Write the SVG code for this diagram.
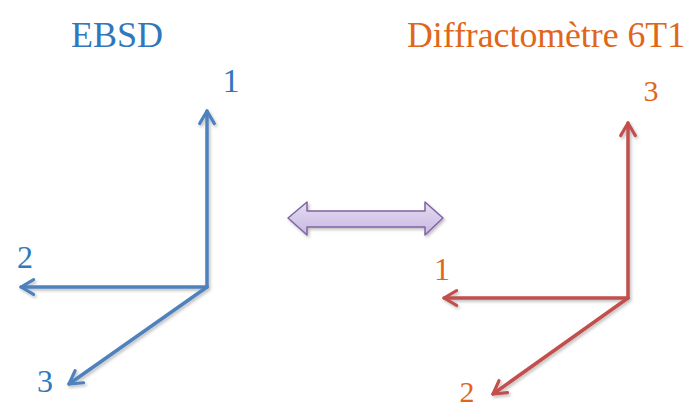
<svg xmlns="http://www.w3.org/2000/svg" width="686" height="407" viewBox="0 0 686 407">
<defs>
<marker id="mb" viewBox="0 0 20 20" refX="16" refY="10" markerWidth="6" markerHeight="6" orient="auto" markerUnits="strokeWidth">
<path d="M4,3 L16,10 L4,17" fill="none" stroke="#4f81bd" stroke-width="3" stroke-linecap="round" stroke-linejoin="round"/>
</marker>
<marker id="mr" viewBox="0 0 20 20" refX="16" refY="10" markerWidth="6" markerHeight="6" orient="auto" markerUnits="strokeWidth">
<path d="M4,3 L16,10 L4,17" fill="none" stroke="#c0504d" stroke-width="3" stroke-linecap="round" stroke-linejoin="round"/>
</marker>
<linearGradient id="pg" x1="0" y1="0" x2="0" y2="1">
<stop offset="0" stop-color="#e4dcf2"/>
<stop offset="1" stop-color="#c6b8e2"/>
</linearGradient>
<filter id="sh" x="-10%" y="-10%" width="130%" height="130%">
<feDropShadow dx="1.5" dy="2" stdDeviation="1.5" flood-color="#000" flood-opacity="0.25"/>
</filter>
</defs>
<rect width="686" height="407" fill="#ffffff"/>
<g id="title-ebsd"><text fill="#2f78bd" font-family="Times New Roman, Liberation Serif, serif" x="117" y="47" font-size="36" text-anchor="middle">EBSD</text></g>
<g id="title-diff"><text fill="#e0661a" font-family="Times New Roman, Liberation Serif, serif" x="407" y="47" font-size="36" textLength="278" lengthAdjust="spacingAndGlyphs">Diffractomètre 6T1</text></g>
<g id="labels-ebsd" fill="#2f78bd" font-family="Times New Roman, Liberation Serif, serif" text-anchor="middle">
<text x="231" y="92" font-size="34">1</text>
<text x="25" y="268" font-size="32">2</text>
<text x="45" y="392" font-size="32">3</text>
</g>
<g id="labels-diff" fill="#e0661a" font-family="Times New Roman, Liberation Serif, serif" text-anchor="middle">
<text x="651" y="101" font-size="30">3</text>
<text x="442" y="280" font-size="32">1</text>
<text x="467" y="402" font-size="30">2</text>
</g>
<g id="connectors" filter="url(#sh)" fill="none" stroke-width="3.5" stroke-linecap="round">
<g stroke="#4f81bd">
<line x1="207" y1="287" x2="207" y2="111" marker-end="url(#mb)"/>
<line x1="207" y1="287" x2="21" y2="287" marker-end="url(#mb)"/>
<line x1="207" y1="287" x2="69" y2="384" marker-end="url(#mb)"/>
</g>
<g stroke="#c0504d">
<line x1="628" y1="298" x2="628" y2="123" marker-end="url(#mr)"/>
<line x1="628" y1="298" x2="444" y2="298" marker-end="url(#mr)"/>
<line x1="628" y1="298" x2="493" y2="394" marker-end="url(#mr)"/>
</g>
</g>
<g id="double-arrow" filter="url(#sh)">
<path d="M288,218 L307,202 L307,211 L425,211 L425,202 L443,218 L425,235 L425,227 L307,227 L307,235 Z" fill="url(#pg)" stroke="#8064a2" stroke-width="1.5" stroke-linejoin="round"/>
</g>
</svg>
